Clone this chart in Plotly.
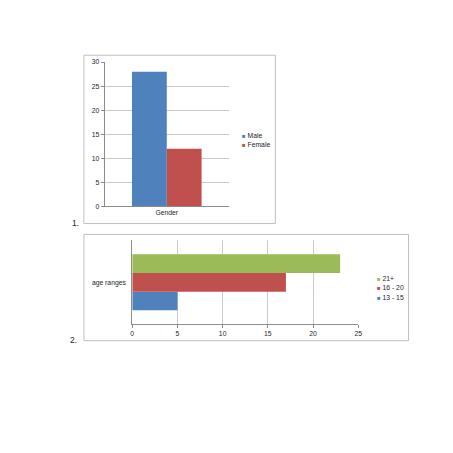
import plotly.graph_objects as go

# datos
gender_category = ["Gender"]
gender_series = ["Male", "Female"]
gender_values = [28, 12]

age_category = ["age ranges"]
age_series = ["13 - 15", "16 - 20", "21+"]
age_values = [5, 17, 23]

gender_ticks = [0, 5, 10, 15, 20, 25, 30]
age_ticks = [0, 5, 10, 15, 20, 25]

BLUE = "#4F81BD"
RED = "#C0504D"
GREEN = "#9BBB59"
gender_colors = [BLUE, RED]
age_colors = [BLUE, RED, GREEN]

W = H = 453
FONT = "Liberation Sans"
GRID = "#CACACA"
AXIS = "#8C8C8C"
BORDER = "#BFBFBF"
TXT = "#262626"
FS = 6.8


def px(x):
    return x / W


def py(y):
    return 1 - y / H


fig = go.Figure()

# ── 1. barras verticales (genero) ───────────────────
bar_w = 0.28
for i, (name, val, col) in enumerate(zip(gender_series, gender_values, gender_colors)):
    fig.add_trace(
        go.Bar(
            x=gender_category,
            y=[val],
            name=name,
            marker=dict(color=col, line_width=0),
            width=bar_w,
            offset=-bar_w + i * bar_w,
            xaxis="x",
            yaxis="y",
            showlegend=False,
        )
    )

# ── 2. barras horizontales (edades) ─────────────────
h_w = 0.2227
for i, (name, val, col) in enumerate(zip(age_series, age_values, age_colors)):
    fig.add_trace(
        go.Bar(
            y=age_category,
            x=[val],
            name=name,
            orientation="h",
            marker=dict(color=col, line_width=0),
            width=h_w,
            offset=-1.5 * h_w + i * h_w,
            xaxis="x2",
            yaxis="y2",
            showlegend=False,
        )
    )

tick_font = dict(family=FONT, size=FS, color=TXT)

fig.update_layout(
    width=W,
    height=H,
    margin=dict(l=0, r=0, t=0, b=0),
    paper_bgcolor="white",
    plot_bgcolor="white",
    barmode="overlay",
    font=dict(family=FONT, size=FS, color=TXT),
    xaxis=dict(
        domain=[px(104), px(230)],
        anchor="y",
        range=[-0.5, 0.5],
        showline=True,
        linecolor=AXIS,
        linewidth=1,
        showgrid=False,
        tickfont=tick_font,
        ticks="",
    ),
    yaxis=dict(
        domain=[py(205.5), py(59)],
        anchor="x",
        range=[0, 30],
        tickvals=gender_ticks,
        showline=True,
        linecolor=AXIS,
        linewidth=1,
        gridcolor=GRID,
        gridwidth=1,
        zeroline=False,
        ticks="outside",
        ticklen=3,
        tickcolor=AXIS,
        tickfont=tick_font,
    ),
    xaxis2=dict(
        domain=[px(132), px(361)],
        anchor="y2",
        range=[0, 25],
        tickvals=age_ticks,
        showline=True,
        linecolor=AXIS,
        linewidth=1,
        gridcolor=GRID,
        gridwidth=1,
        zeroline=False,
        ticks="outside",
        ticklen=3,
        tickcolor=AXIS,
        tickfont=tick_font,
    ),
    yaxis2=dict(
        domain=[py(325.3), py(240)],
        anchor="x2",
        range=[-0.5, 0.5],
        showline=True,
        linecolor=AXIS,
        linewidth=1,
        showgrid=False,
        ticks="",
        ticklabelstandoff=4,
        tickfont=tick_font,
    ),
)

# marcos de cada grafico
for x0, y0, x1, y1 in [(83, 52, 277, 223), (83, 234, 412, 342)]:
    fig.add_shape(
        type="rect",
        xref="paper",
        yref="paper",
        x0=px(x0),
        x1=px(x1),
        y0=py(y1),
        y1=py(y0),
        line=dict(color=BORDER, width=1),
        fillcolor="rgba(0,0,0,0)",
    )


# leyendas compactas (estilo Excel)
def add_legend(names, colors, x, y0, step):
    for i, (name, col) in enumerate(zip(names, colors)):
        fig.add_annotation(
            xref="paper",
            yref="paper",
            x=px(x),
            y=py(y0 + i * step),
            xanchor="left",
            yanchor="middle",
            showarrow=False,
            text=f"<span style='color:{col};font-size:6px'>■</span> {name}",
            font=dict(family=FONT, size=FS, color=TXT),
        )


add_legend(gender_series, gender_colors, 241.5, 133.3, 9.7)
add_legend(age_series[::-1], age_colors[::-1], 377.5, 278.5, 9.7)

# numeracion
for label, x, y in [("1.", 69, 222), ("2.", 67, 341)]:
    fig.add_annotation(
        xref="paper",
        yref="paper",
        x=px(x),
        y=py(y),
        xanchor="left",
        yanchor="middle",
        showarrow=False,
        text=label,
        font=dict(family=FONT, size=8.5, color=TXT),
    )

# sin margen del body para que la figura ocupe la ventana exacta
fig.write_html(
    "out.html",
    config={"displayModeBar": False},
    post_script="document.body.style.margin='0';document.body.style.overflow='hidden';",
)
